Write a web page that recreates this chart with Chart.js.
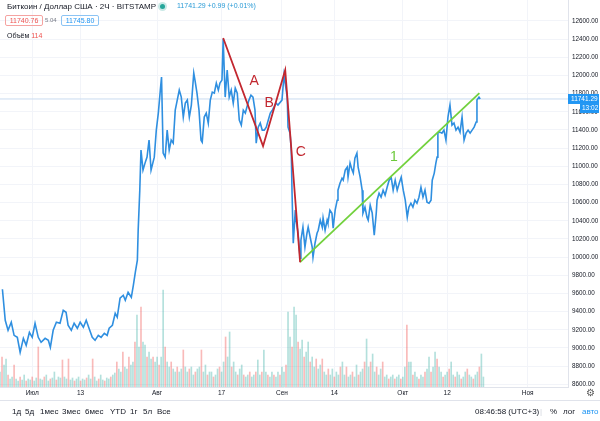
<!DOCTYPE html>
<html lang="ru">
<head>
<meta charset="utf-8">
<title>Биткоин / Доллар США · 2Ч</title>
<script src="https://cdn.jsdelivr.net/npm/chart.js@4.4.1/dist/chart.umd.min.js"></script>
<style>
  body { margin: 0; background: #fff; font-family: 'Liberation Sans', Arial, sans-serif; }
  #wrap { position: relative; width: 600px; height: 421px; overflow: hidden; }
  #chart { position: absolute; left: 0; top: 0; }
  .t { position: absolute; white-space: nowrap; color: #131722; }
  .box { position: absolute; height: 9px; line-height: 9px; font-size: 7px; text-align: center; border-radius: 2px; }
  #bar { position: absolute; left: 0; top: 400px; width: 600px; height: 21px; border-top: 1px solid #e0e3eb; }
  #bar span { position: absolute; top: 6px; font-size: 8px; color: #131722; }
</style>
</head>
<body>
<div id="wrap">
  <canvas id="chart" width="600" height="400"></canvas>

  <div class="t" style="left:7px;top:2px;font-size:8px;">Биткоин / Доллар США · 2Ч · BITSTAMP</div>
  <div style="position:absolute;left:160px;top:4px;width:5px;height:5px;border-radius:50%;background:#26a69a;box-shadow:0 0 0 2px rgba(38,166,154,.25);"></div>
  <div class="t" style="left:177px;top:2px;font-size:7px;color:#2a9bd6;">11741.29 +0.99 (+0.01%)</div>
  <div class="box" style="left:5px;top:15px;width:36px;border:1px solid #f5a3a1;color:#ef5350;">11740.76</div>
  <div class="t" style="left:45px;top:17px;font-size:6px;color:#787b86;">5.04</div>
  <div class="box" style="left:61px;top:15px;width:36px;border:1px solid #8cc4f4;color:#2196f3;">11745.80</div>
  <div class="t" style="left:7px;top:32px;font-size:7px;">Объём <span style="color:#ef5350;">114</span></div>
  <div class="t" style="left:586px;top:387px;font-size:10px;color:#555;">⚙</div>

  <div id="bar">
    <span style="left:12px;">1д</span>
    <span style="left:25px;">5д</span>
    <span style="left:40px;">1мес</span>
    <span style="left:62px;">3мес</span>
    <span style="left:85px;">6мес</span>
    <span style="left:110px;">YTD</span>
    <span style="left:130px;">1г</span>
    <span style="left:143px;">5л</span>
    <span style="left:157px;">Все</span>
    <span style="left:475px;">08:46:58 (UTC+3)</span>
    <span style="left:540px;color:#d1d4dc;">|</span>
    <span style="left:550px;">%</span>
    <span style="left:563px;">лог</span>
    <span style="left:582px;color:#2196f3;">авто</span>
  </div>
</div>

<script>
"use strict";

// days counted from 1 July 2020, 2H candles
const priceDays = [
  -7.4, -6.7, -6.0, -5.2, -4.5, -3.7, -3.0, -2.2, -1.5, -0.7,
  0, 0.7, 1.5, 2.2, 3.2, 4.0, 4.5, 5.2, 6.0, 6.9,
  7.7, 8.4, 8.9, 9.7, 10.4, 11.2, 11.9, 12.7, 13.4, 14.1,
  14.9, 15.6, 16.4, 17.1, 17.9, 18.6, 19.1, 19.9, 20.6, 21.1,
  21.8, 22.6, 23.1, 23.8, 24.6, 25.1, 25.6, 26.1, 26.3, 26.7,
  27.0, 27.5, 28.0, 28.5, 29.0, 29.5, 30.3, 30.8, 31.3, 31.8,
  32.1, 32.5, 33.0, 33.5, 34.0, 34.5, 35.0, 35.5, 36.0, 36.5,
  37.0, 37.5, 38.0, 38.5, 39.0, 39.5, 40.1, 40.4, 40.9, 41.4,
  41.9, 42.2, 42.7, 43.2, 43.7, 44.2, 44.7, 45.2, 45.7, 46.2,
  46.6, 47.1, 47.4, 47.9, 48.4, 48.9, 49.4, 49.9, 50.4, 50.9,
  51.4, 51.9, 52.4, 52.9, 53.3, 53.8, 54.3, 54.8, 55.3, 55.6,
  56.1, 56.6, 57.1, 57.6, 58.1, 58.6, 59.1, 59.6, 60.0, 60.5,
  61.0, 62.0, 62.5, 63.3, 63.5, 64.0, 64.3, 64.5, 64.8, 65.3,
  65.5, 66.0, 66.5, 66.7, 67.2, 67.7, 68.2, 68.5, 69.0, 69.5,
  69.7, 70.2, 70.7, 71.0, 71.5, 72.0, 72.2, 72.7, 73.2, 73.4,
  73.9, 74.4, 74.7, 75.2, 75.7, 75.9, 76.4, 76.9, 77.2, 77.7,
  78.2, 78.4, 78.9, 79.4, 79.7, 80.1, 80.6, 80.9, 81.4, 81.9,
  82.1, 82.6, 83.1, 83.4, 83.9, 84.4, 84.9, 85.4, 85.6, 86.1,
  86.6, 87.1, 87.6, 88.1, 88.6, 89.1, 89.6, 90.1, 90.6, 91.1,
  91.6, 92.1, 92.6, 93.1, 93.5, 94.0, 94.5, 95.0, 95.5, 96.0,
  96.5, 97.0, 97.5, 98.0, 98.5, 99.0, 99.3, 99.8, 100.2, 100.5,
  100.7, 101.2, 101.7, 102.2, 102.7, 103.2, 103.7, 104.2, 104.7, 105.2,
  105.7, 106.2, 106.7, 107.2, 107.7, 108.2, 108.7, 109.2, 109.7, 110.2,
  110.4, 110.9, 111.2
];
const priceValues = [
  9646, 9305, 9194, 9283, 9139, 9117, 8952, 9106, 9029, 9172,
  9117, 9272, 9117, 9062, 9106, 9084, 9007, 9194, 9283, 9272,
  9415, 9393, 9250, 9194, 9272, 9217, 9283, 9228, 9305, 9217,
  9117, 9084, 9139, 9117, 9161, 9139, 9217, 9250, 9382, 9338,
  9547, 9580, 9525, 9613, 9558, 9690, 9834, 9966, 10296, 10737,
  11178, 10958, 11035, 11101, 11288, 10958, 11101, 11398, 11586, 11839,
  11982, 11145, 11101, 11398, 11178, 11288, 11255, 11619, 11729, 11839,
  11762, 11542, 11696, 11729, 11542, 11674, 12027, 11949, 11806, 11619,
  11288, 11266, 11542, 11586, 11476, 11729, 11817, 11806, 11916, 11839,
  11916, 11949, 12401, 11762, 12060, 11762, 11839, 11696, 11861, 11806,
  11509, 11453, 11619, 11586, 11652, 11729, 11784, 11762, 11619, 11255,
  11431, 11476, 11398, 11398, 11431, 11509, 11586, 11619, 11652, 11696,
  11674, 11729, 12005, 11762, 11431, 11365, 11178, 10704, 10153, 10517,
  10407, 10263, 9988, 10186, 10330, 10109, 10263, 10330, 10219, 10109,
  9999, 10153, 10263, 10296, 10407, 10330, 10429, 10296, 10407, 10374,
  10517, 10484, 10318, 10517, 10627, 10737, 10814, 10869, 10847, 10958,
  10991, 10881, 11035, 10958, 10925, 11090, 11145, 10991, 10881, 10737,
  10484, 10550, 10440, 10407, 10572, 10484, 10241, 10484, 10627, 10704,
  10660, 10737, 10682, 10770, 10847, 10881, 10737, 10847, 10737, 10814,
  10881, 10737, 10627, 10440, 10550, 10594, 10550, 10627, 10594, 10660,
  10770, 10660, 10737, 10605, 10594, 10627, 10847, 10925, 11035, 11101,
  11365, 11376, 11365, 11398, 11288, 11542, 11674, 11453, 11476, 11398,
  11431, 11376, 11542, 11288, 11365, 11398, 11365, 11398, 11431, 11487,
  11729, 11762, 11741
];

// volume, one bar every half day starting at day -8
const volStart = -8;
const volStep = 0.5;
const volumes = [
  15, 30, 22, 28, 12, 8, 10, 22, 8, 6, 10, 7, 12, 6, 8, 7, 10, 6, 9, 40,
  8, 7, 10, 12, 6, 8, 9, 15, 7, 10, 9, 27, 10, 8, 28, 7, 9, 6, 8, 10,
  6, 8, 7, 9, 12, 8, 28, 10, 6, 8, 12, 7, 6, 9, 8, 10, 12, 14, 25, 18,
  15, 35, 20, 18, 30, 22, 25, 45, 72, 40, 80, 45, 42, 30, 35, 28, 30, 25, 30, 22,
  30, 97, 40, 25, 20, 25, 18, 15, 20, 15, 18, 37, 20, 15, 18, 20, 12, 15, 18, 20,
  37, 15, 22, 12, 15, 15, 10, 12, 18, 20, 15, 25, 50, 30, 55, 20, 25, 15, 12, 18,
  22, 12, 10, 12, 15, 10, 12, 15, 27, 12, 15, 37, 15, 12, 10, 15, 12, 10, 15, 12,
  20, 15, 22, 75, 50, 40, 80, 72, 45, 38, 47, 30, 35, 45, 25, 30, 20, 28, 18, 22,
  28, 15, 12, 18, 12, 18, 10, 15, 12, 20, 25, 12, 20, 10, 12, 15, 10, 22, 12, 15,
  18, 25, 48, 20, 25, 33, 15, 20, 12, 18, 25, 10, 12, 8, 10, 12, 8, 10, 12, 8,
  10, 20, 62, 25, 25, 12, 15, 10, 8, 12, 10, 15, 18, 30, 15, 20, 35, 28, 20, 15,
  10, 12, 15, 18, 25, 12, 10, 15, 12, 8, 10, 15, 18, 12, 10, 8, 12, 15, 20, 33,
  10
];

// wave annotation
const abcDays = [47.4, 57.3, 62.8, 66.5];
const abcValues = [12412, 11222, 12060, 9944];
const trendDays = [66.5, 111.0];
const trendValues = [9944, 11806];
const markTexts = ["A", "B", "C", "1"];
const markDays = [55.1, 58.8, 66.7, 89.8];
const markValues = [11938, 11696, 11156, 11101];
const markColors = ["#c2272f", "#c2272f", "#c2272f", "#6cc93b"];

const xTickDays = [0, 12, 31, 47, 62, 75, 92, 103, 123];
const xTickLabels = ["Июл", "13", "Авг", "17", "Сен", "14", "Окт", "12", "Ноя"];
const yTicks = [8600, 8800, 9000, 9200, 9400, 9600, 9800, 10000, 10200, 10400,
  10600, 10800, 11000, 11200, 11400, 11600, 11800, 12000, 12200, 12400, 12600];

const lastPrice = 11741.29;

Chart.defaults.font.family = "'Liberation Sans', Arial, sans-serif";
Chart.defaults.color = "#131722";

const pricePoints = priceDays.map((d, i) => ({ x: d, y: priceValues[i] }));
const volPoints = volumes.map((v, i) => ({ x: volStart + i * volStep, y: v }));
const abcPoints = abcDays.map((d, i) => ({ x: d, y: abcValues[i] }));
const trendPoints = trendDays.map((d, i) => ({ x: d, y: trendValues[i] }));

const overlay = {
  id: "overlay",
  beforeDatasetsDraw(chart) {
    const { ctx, chartArea, scales } = chart;
    const y = scales.y.getPixelForValue(lastPrice);
    ctx.save();
    ctx.strokeStyle = "#c9dcf0";
    ctx.lineWidth = 1;
    ctx.beginPath();
    ctx.moveTo(chartArea.left, y);
    ctx.lineTo(chartArea.right, y);
    ctx.stroke();
    ctx.restore();
  },
  afterDraw(chart) {
    const { ctx, chartArea, scales } = chart;
    ctx.save();
    ctx.font = "14px 'Liberation Sans', Arial, sans-serif";
    ctx.textAlign = "center";
    ctx.textBaseline = "middle";
    markTexts.forEach((t, i) => {
      ctx.fillStyle = markColors[i];
      ctx.fillText(t, scales.x.getPixelForValue(markDays[i]), scales.y.getPixelForValue(markValues[i]));
    });

    const y = scales.y.getPixelForValue(lastPrice);
    const x0 = chartArea.right;
    ctx.fillStyle = "#2196f3";
    ctx.fillRect(x0, y - 5, 31, 10);
    ctx.fillRect(x0 + 12, y + 5, 19, 9);
    ctx.fillStyle = "#fff";
    ctx.font = "6.5px 'Liberation Sans', Arial, sans-serif";
    ctx.textAlign = "left";
    ctx.fillText(lastPrice.toFixed(2), x0 + 3, y);
    ctx.fillText("13:02", x0 + 14, y + 9.5);
    ctx.restore();
  }
};

new Chart(document.getElementById("chart"), {
  type: "line",
  data: {
    datasets: [
      {
        type: "bar",
        data: volPoints,
        yAxisID: "yv",
        barThickness: 1,
        backgroundColor: c => (c.dataIndex % 3 === 1 ? "rgba(239,83,80,0.4)" : "rgba(38,166,154,0.35)"),
        order: 10
      },
      {
        data: pricePoints,
        borderColor: "#2f8fe0",
        borderWidth: 1.6,
        pointRadius: 0,
        tension: 0,
        order: 3
      },
      {
        data: abcPoints,
        borderColor: "#c2272f",
        borderWidth: 1.8,
        pointRadius: 0,
        order: 1
      },
      {
        data: trendPoints,
        borderColor: "#72d13d",
        borderWidth: 1.8,
        pointRadius: 0,
        order: 1
      }
    ]
  },
  options: {
    responsive: false,
    animation: false,
    layout: { padding: 0 },
    plugins: { legend: { display: false }, tooltip: { enabled: false } },
    scales: {
      x: {
        type: "linear",
        min: -8,
        max: 133,
        offset: false,
        afterBuildTicks: s => { s.ticks = xTickDays.map(v => ({ value: v })); },
        afterFit: s => { s.height = 13; s.paddingLeft = 0; s.paddingRight = 0; },
        ticks: {
          autoSkip: false,
          maxRotation: 0,
          padding: 2,
          font: { size: 6.5 },
          callback: v => xTickLabels[xTickDays.indexOf(v)]
        },
        grid: { color: "#f2f4f9", drawTicks: false, offset: false },
        border: { color: "#e0e3eb" }
      },
      y: {
        position: "right",
        min: 8570,
        max: 12831,
        afterBuildTicks: s => { s.ticks = yTicks.map(v => ({ value: v })); },
        afterFit: s => { s.width = 32; s.paddingTop = 0; s.paddingBottom = 0; },
        ticks: {
          padding: 4,
          font: { size: 6.3 },
          callback: v => v.toFixed(2)
        },
        grid: { color: "#f2f4f9", drawTicks: false },
        border: { color: "#e0e3eb" }
      },
      yv: {
        display: false,
        min: 0,
        max: 387
      }
    }
  },
  plugins: [overlay]
});
</script>
</body>
</html>
